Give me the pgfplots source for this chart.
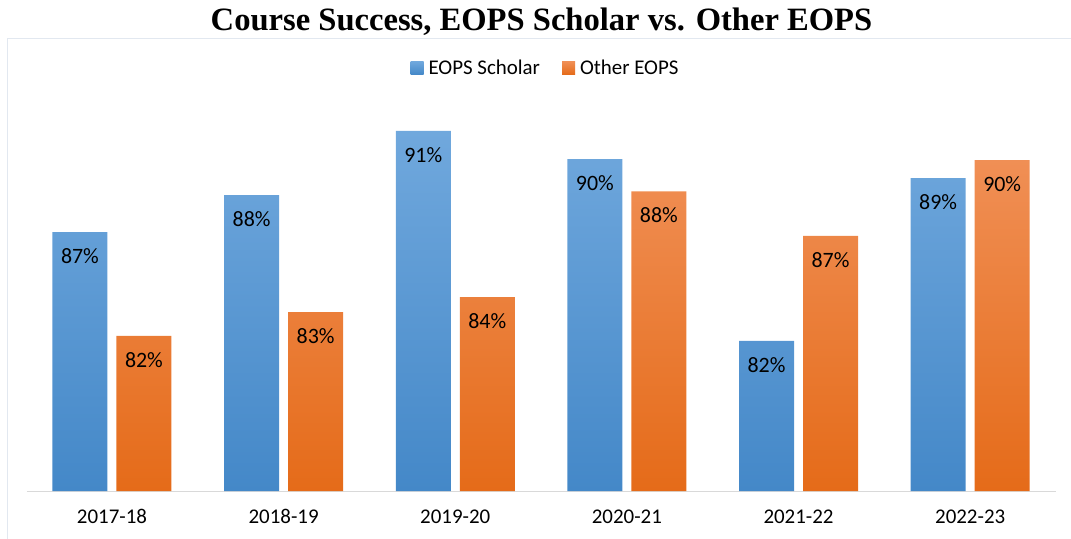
\documentclass[border=0pt]{standalone}
\usepackage{fontspec}
\setmainfont{Carlito}
\newfontfamily\titlefont{Liberation Serif}
\usepackage{pgfplots}
\pgfplotsset{compat=1.18}

\definecolor{blueTop}{RGB}{112,168,221}
\definecolor{blueMid}{RGB}{91,155,218}
\definecolor{blueBot}{RGB}{68,136,200}
\definecolor{orTop}{RGB}{240,143,85}
\definecolor{orMid}{RGB}{245,128,42}
\definecolor{orBot}{RGB}{229,107,25}
\definecolor{frameC}{RGB}{226,232,240}
\definecolor{axisC}{RGB}{217,217,217}

\begin{document}
\begin{tikzpicture}
\begin{axis}[
  name=ax,
  scale only axis,
  width=1029bp, height=396bp,
  xmin=-0.495, xmax=5.5,
  ymin=76, ymax=92.5,
  ybar=9bp, bar width=55bp,
  xtick={0,...,5},
  xticklabels={2017-18,2018-19,2019-20,2020-21,2021-22,2022-23},
  xticklabel style={font=\fontsize{21}{24}\selectfont, yshift=-15bp},
  major tick length=0pt,
  hide y axis,
  axis x line*=bottom,
  x axis line style={-, draw=axisC, line width=1pt},
  point meta=explicit symbolic,
  nodes near coords,
  nodes near coords style={font=\fontsize{22}{24}\selectfont, anchor=north, yshift=-13bp, text=black},
  title={\titlefont\bfseries Course Success, EOPS Scholar vs. Other EOPS},
  title style={font=\fontsize{32.7}{36}\selectfont, at={(0.5,1)}, anchor=base, yshift=59bp},
  legend columns=2,
  legend style={draw=none, at={(0.5,1)}, anchor=center, xshift=4bp, yshift=27bp,
    font=\fontsize{21}{24}\selectfont,
    /tikz/every even column/.append style={column sep=20bp}},
  legend image code/.code={\path[#1, draw=none] (0bp,-6.5bp) rectangle (13bp,6.5bp);
    \path (0bp,0bp) -- (16bp,0bp);},
]
\addplot[draw=none, top color=blueTop, middle color=blueMid, bottom color=blueBot]
  coordinates {(0,86.79) [87\%] (1,88.33) [88\%] (2,91.0) [91\%]
               (3,89.83) [90\%] (4,82.25) [82\%] (5,89.04) [89\%]};
\addplot[draw=none, top color=orTop, middle color=orMid, bottom color=orBot]
  coordinates {(0,82.46) [82\%] (1,83.45) [83\%] (2,84.08) [84\%]
               (3,88.48) [88\%] (4,86.63) [87\%] (5,89.79) [90\%]};
\legend{EOPS Scholar, Other EOPS}
\end{axis}
\draw[frameC, line width=1pt] ([shift={(1100bp,452bp)}]ax.south west) -- ([shift={(-20bp,452bp)}]ax.south west) -- ([shift={(-20bp,-60bp)}]ax.south west);
\pgfresetboundingbox
\useasboundingbox ([shift={(-27bp,-48bp)}]ax.south west) rectangle ([shift={(1044bp,491bp)}]ax.south west);
\end{tikzpicture}
\end{document}
